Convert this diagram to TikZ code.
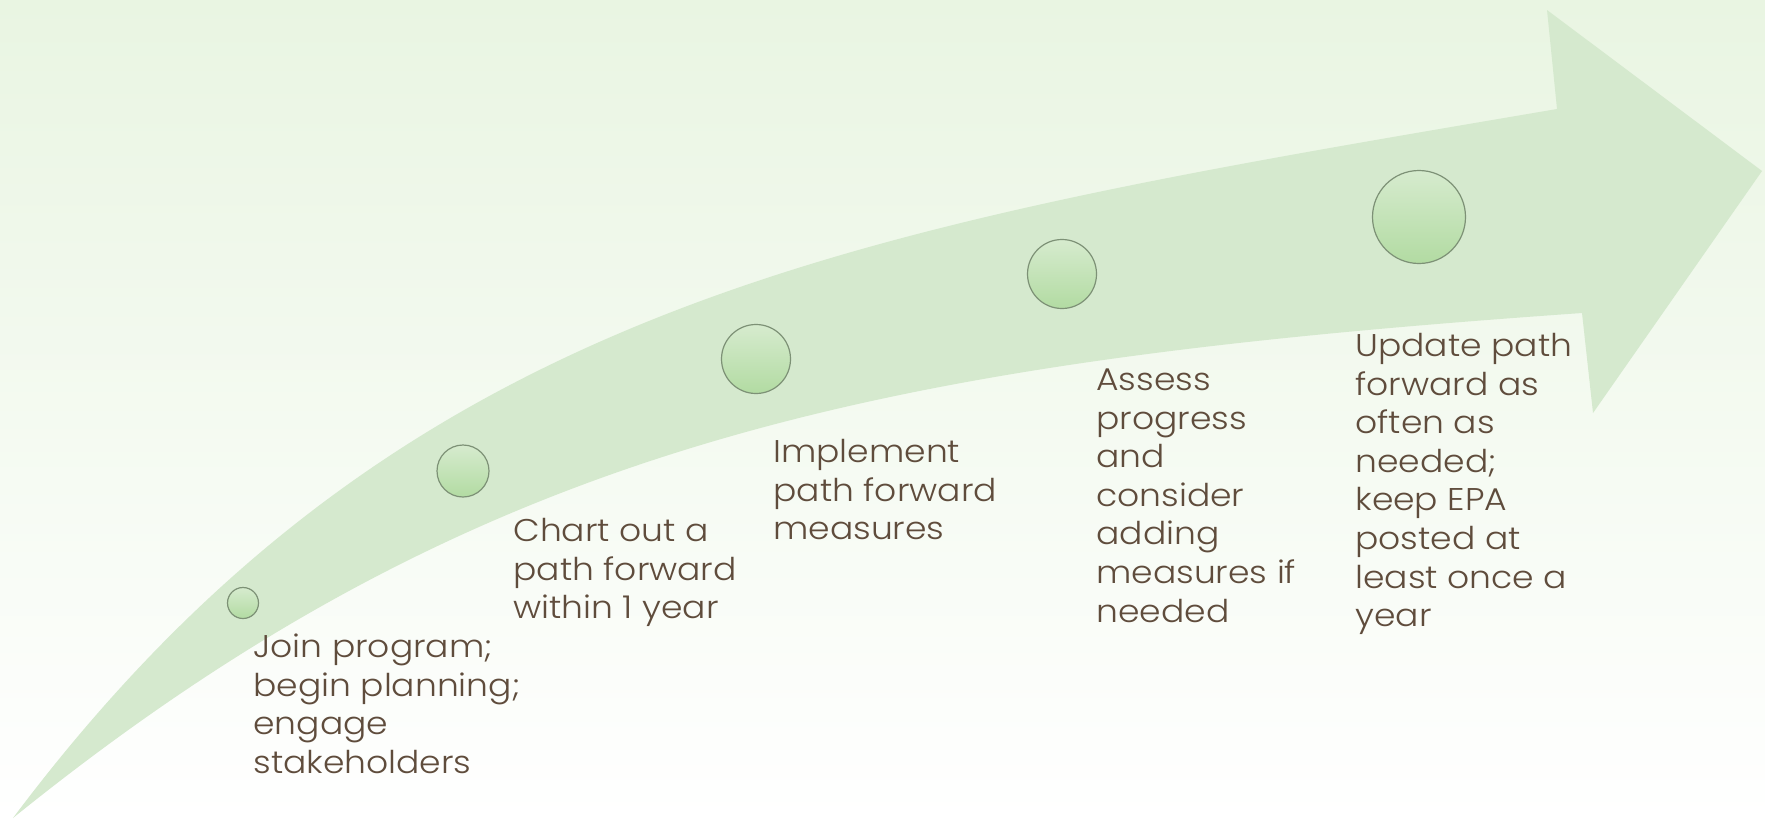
\documentclass[tikz,border=0pt]{standalone}
\usepackage{fontspec}
\setmainfont{Poppins Light}[FakeStretch=1.1]
\definecolor{bgtop}{RGB}{233,245,226}
\definecolor{arrowfill}{RGB}{213,233,206}
\definecolor{dottop}{RGB}{214,235,206}
\definecolor{dotbot}{RGB}{178,219,162}
\definecolor{dotline}{RGB}{125,145,118}
\definecolor{txt}{RGB}{95,76,60}
\begin{document}
\begin{tikzpicture}[x=0.5pt,y=-0.5pt,
  dot/.style={circle, draw=dotline, line width=0.6pt, top color=dottop, bottom color=dotbot, inner sep=0pt},
  lbl/.style={anchor=north west, inner sep=0pt, align=left, text=txt, font=\fontsize{15.7}{19.3}\selectfont}]
\useasboundingbox (0,0) rectangle (1765,820);
\shade[top color=bgtop, bottom color=white] (0,0) rectangle (1765,820);
\fill[arrowfill] (13,818) .. controls (403,298) and (857,228) .. (1557,109)
 -- (1547,10) -- (1762,171) -- (1593,413) -- (1582,313)
 .. controls (882,362) and (481,440) .. (13,818) -- cycle;
\node[dot, minimum size=15.5pt] (c1) at (243,603) {};
\node[dot, minimum size=26pt] (c2) at (463,471) {};
\node[dot, minimum size=34.5pt] (c3) at (756,359) {};
\node[dot, minimum size=34.5pt] (c4) at (1062,274) {};
\node[dot, minimum size=46.5pt] (c5) at (1419,217) {};
\node[lbl] (t1) at (253,630) {\strut Join program;\\begin planning;\\engage\\stakeholders};
\node[lbl] (t2) at (513,514) {\strut Chart out a\\path forward\\within 1 year};
\node[lbl] (t3) at (773,435) {\strut Implement\\path forward\\measures};
\node[lbl] (t4) at (1096,363) {\strut Assess\\progress\\and\\consider\\adding\\measures if\\needed};
\node[lbl] (t5) at (1355,329) {\strut Update path\\forward as\\often as\\needed;\\keep EPA\\posted at\\least once a\\year};
\end{tikzpicture}
\end{document}
